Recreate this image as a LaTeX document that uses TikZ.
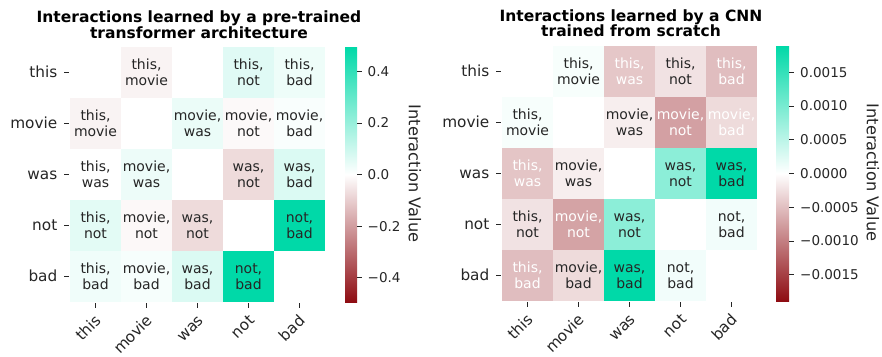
\documentclass[tikz,border=0pt]{standalone}
\usepackage{fontspec}
\setmainfont{DejaVu Sans}
\definecolor{cteal}{RGB}{0,217,168}
\definecolor{cred}{RGB}{142,12,18}
\definecolor{tdark}{RGB}{38,38,38}
\newcommand\tokword[1]{\ifcase#1\or this\or movie\or was\or not\or bad\fi}
\begin{document}
\begin{tikzpicture}[x=1pt,y=-1pt,
  cell/.style={minimum width=51pt,minimum height=51pt,inner sep=0pt,outer sep=0pt,align=center,font=\fontsize{14}{16}\selectfont},
  axlab/.style={font=\fontsize{15.3}{18}\selectfont,text=tdark,inner sep=0pt},
  cbtick/.style={font=\fontsize{13.5}{16}\selectfont,text=tdark,anchor=west,inner sep=0pt},
  tickline/.style={draw=tdark,line width=0.8pt},
  ttl/.style={font=\fontsize{15.5}{16}\selectfont\bfseries,anchor=base,inner sep=0pt},
  cblab/.style={font=\fontsize{16.2}{18}\selectfont,text=tdark,rotate=-90,inner sep=0pt},
  cbar/.style={top color=cteal,bottom color=cred,middle color=white}]
\fill[white] (0,0) rectangle (882,356);
\useasboundingbox (0,0) rectangle (882,356);

% ---------------- left heatmap ----------------
\def\LX{70}\def\LY{47}
\foreach \r/\c/\base/\pct/\tc in {
  1/2/cred/5/tdark, 1/4/cteal/12/tdark, 1/5/cteal/6.5/tdark,
  2/1/cred/5/tdark, 2/3/cteal/8/tdark, 2/4/cred/2.5/tdark, 2/5/cteal/2.5/tdark,
  3/1/cteal/0/tdark, 3/2/cteal/7/tdark, 3/4/cred/15/tdark, 3/5/cteal/14/tdark,
  4/1/cteal/11/tdark, 4/2/cred/3/tdark, 4/3/cred/15/tdark, 4/5/cteal/100/tdark,
  5/1/cteal/6/tdark, 5/2/cteal/3.5/tdark, 5/3/cteal/14/tdark, 5/4/cteal/100/tdark}{
  \pgfmathtruncatemacro\ia{min(\r,\c)}
  \pgfmathtruncatemacro\ib{max(\r,\c)}
  \node[cell,fill=\base!\pct!white,text=\tc] (L-\r-\c) at ({\LX+(\c-0.5)*51},{\LY+(\r-0.5)*51}) {\vphantom{h}\tokword{\ia},\\\tokword{\ib}};
}
\foreach \w [count=\i] in {this,movie,was,not,bad}{
  \node[axlab,anchor=base east] (LR-\i) at (\LX-12.5,{\LY+(\i-0.5)*51+5}) {\w};
  \draw[tickline] (\LX-6,{\LY+(\i-0.5)*51}) -- (\LX-1.5,{\LY+(\i-0.5)*51});
  \node[axlab,rotate=45,anchor=base east] (LC-\i) at ({\LX+(\i-0.5)*51+7},\LY+255+19.5) {\w};
  \draw[tickline] ({\LX+(\i-0.5)*51},\LY+256) -- ({\LX+(\i-0.5)*51},\LY+261);
}
\node[ttl] (LT1) at (199,22.3) {Interactions learned by a pre-trained};
\node[ttl] (LT2) at (199,38.3) {transformer architecture};
% colorbar
\shade[cbar] (345,47) rectangle (357,302);
\foreach \v/\t in {0.4/0.4,0.2/0.2,0.0/0.0,-0.2/−0.2,-0.4/−0.4}{
  \draw[tickline] (357,{174.5-\v*258}) -- (361.5,{174.5-\v*258});
  \node[cbtick] at (367.5,{174.5-\v*258}) {\t};
}
\node[cblab] (LCB) at (415,173.7) {Interaction Value};

% ---------------- right heatmap ----------------
\def\RX{502}\def\RY{46}
\foreach \r/\c/\base/\pct/\tc in {
  1/2/cteal/3/tdark, 1/3/cred/23/white, 1/4/cred/12/tdark, 1/5/cred/27/white,
  2/1/cteal/3/tdark, 2/3/cred/7/tdark, 2/4/cred/39/white, 2/5/cred/15/white,
  3/1/cred/24/white, 3/2/cred/7/tdark, 3/4/cteal/45/tdark, 3/5/cteal/100/tdark,
  4/1/cred/12/tdark, 4/2/cred/38/white, 4/3/cteal/45/tdark, 4/5/cteal/5/tdark,
  5/1/cred/27/white, 5/2/cred/15/tdark, 5/3/cteal/100/tdark, 5/4/cteal/5/tdark}{
  \pgfmathtruncatemacro\ia{min(\r,\c)}
  \pgfmathtruncatemacro\ib{max(\r,\c)}
  \node[cell,fill=\base!\pct!white,text=\tc] (R-\r-\c) at ({\RX+(\c-0.5)*51},{\RY+(\r-0.5)*51}) {\vphantom{h}\tokword{\ia},\\\tokword{\ib}};
}
\foreach \w [count=\i] in {this,movie,was,not,bad}{
  \node[axlab,anchor=base east] (RR-\i) at (\RX-12.5,{\RY+(\i-0.5)*51+5}) {\w};
  \draw[tickline] (\RX-6,{\RY+(\i-0.5)*51}) -- (\RX-1.5,{\RY+(\i-0.5)*51});
  \node[axlab,rotate=45,anchor=base east] (RC-\i) at ({\RX+(\i-0.5)*51+7},\RY+255+19.5) {\w};
  \draw[tickline] ({\RX+(\i-0.5)*51},\RY+256) -- ({\RX+(\i-0.5)*51},\RY+261);
}
\node[ttl] (RT1) at (631,21.7) {Interactions learned by a CNN};
\node[ttl] (RT2) at (631,36.7) {trained from scratch};
% colorbar (tick values in units of 0.0001)
\shade[cbar] (776,46) rectangle (789,301);
\foreach \v/\t in {15/0.0015,10/0.0010,5/0.0005,0/0.0000,-5/−0.0005,-10/−0.0010,-15/−0.0015}{
  \draw[tickline] (789,{173.5-\v*6.746}) -- (793.5,{173.5-\v*6.746});
  \node[cbtick] at (800,{173.5-\v*6.746}) {\t};
}
\node[cblab] (RCB) at (873,172.5) {Interaction Value};
\end{tikzpicture}
\end{document}
